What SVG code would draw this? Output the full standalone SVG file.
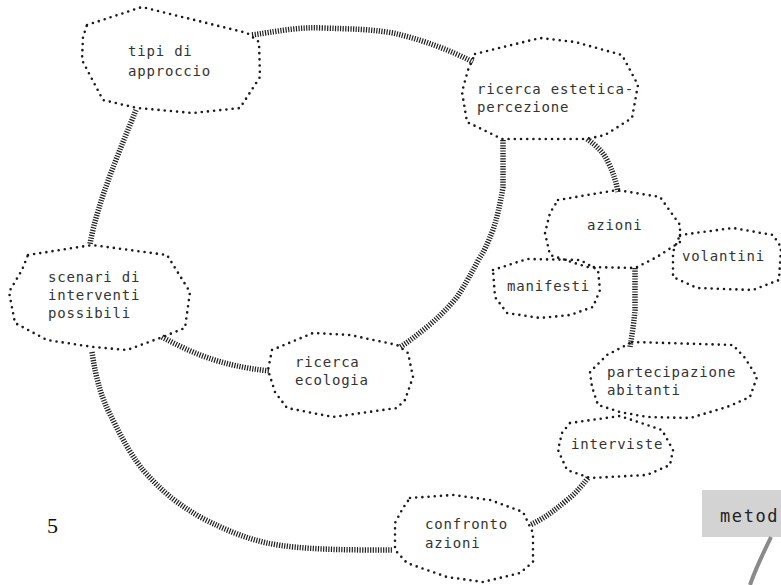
<svg xmlns="http://www.w3.org/2000/svg" width="781" height="585" viewBox="0 0 781 585">
<style>
.node{fill:none;stroke:#1a1a1a;stroke-width:2.6;stroke-linecap:round;stroke-linejoin:round;stroke-dasharray:0 6.2}
.conn{fill:none;stroke:#1e1e1e;stroke-width:5.5;stroke-dasharray:1.2 1.4}
.lbl{font-family:"DejaVu Sans Mono","Liberation Mono",monospace;font-size:14px;letter-spacing:0.8px;fill:#333}
</style>
<rect width="781" height="585" fill="#fff"/>
<g id="connectors">
<path class="conn" d="M252,35 C285,30 300,27 323,28 C350,29 370,29 393,33 C420,39 450,50 473,62"/>
<path class="conn" d="M136,110 C120,150 98,200 90,244"/>
<path class="conn" d="M162,337 C190,352 220,366 270,371"/>
<path class="conn" d="M92,352 C96,380 102,400 113,420 C125,445 135,460 143,470 C165,495 180,505 200,517 C225,530 245,538 267,543 C300,550 350,550 392,550"/>
<path class="conn" d="M503,140 L503,187 C500,205 497,218 493,230 C488,242 485,250 480,257 C472,272 465,285 457,297 C448,308 438,318 427,327 C418,334 410,341 400,347"/>
<path class="conn" d="M587,139 C597,146 604,153 608,162 C613,172 616,181 618,192"/>
<path class="conn" d="M635,268 L635,310 C634,322 632,335 630,347"/>
<path class="conn" d="M588,478 C580,488 575,494 567,500 C555,510 545,518 530,525"/>
</g>
<g id="n-tipi">
<polygon class="node" points="87,25 142,7 247,33 259,42 260,77 240,108 193,113 137,108 103,100 82,60 83,37"/>
<text class="lbl" x="128" y="56">tipi di</text>
<text class="lbl" x="128" y="76">approccio</text>
</g>
<g id="n-estetica">
<polygon class="node" points="475,54 540,38 575,42 622,55 638,85 632,118 605,135 587,139 502,139 467,122 462,92 468,70"/>
<text class="lbl" x="477" y="94">ricerca estetica-</text>
<text class="lbl" x="477" y="112">percezione</text>
</g>
<g id="n-scenari">
<polygon class="node" points="28,255 92,245 167,255 190,292 185,328 160,338 127,350 93,347 47,340 15,323 9,292 22,270"/>
<text class="lbl" x="48" y="282">scenari di</text>
<text class="lbl" x="48" y="300">interventi</text>
<text class="lbl" x="48" y="318">possibili</text>
</g>
<g id="n-ecologia">
<polygon class="node" points="272,350 313,333 350,335 397,345 408,353 413,377 405,400 397,408 333,417 287,408 275,392 268,370"/>
<text class="lbl" x="295" y="367">ricerca</text>
<text class="lbl" x="295" y="385">ecologia</text>
</g>
<g id="n-azioni">
<polygon class="node" points="558,200 617,190 660,197 680,225 680,242 657,257 635,268 587,267 550,255 545,233 550,213"/>
<text class="lbl" x="587" y="230">azioni</text>
</g>
<g id="n-volantini">
<polygon class="node" points="680,235 733,228 773,235 781,247 779,280 753,290 697,288 673,277 673,252"/>
<text class="lbl" x="682" y="261">volantini</text>
</g>
<g id="n-manifesti">
<polygon class="node" points="493,270 527,259 580,260 598,270 600,290 593,307 570,315 540,318 507,313 495,297"/>
<text class="lbl" x="507" y="291">manifesti</text>
</g>
<g id="n-partecipazione">
<polygon class="node" points="632,342 733,345 745,358 757,377 750,397 727,407 690,418 647,417 620,412 598,405 592,387 590,372 607,355"/>
<text class="lbl" x="607" y="377">partecipazione</text>
<text class="lbl" x="607" y="395">abitanti</text>
</g>
<g id="n-interviste">
<polygon class="node" points="570,423 620,416 662,430 673,450 670,465 647,475 590,478 567,470 558,450 562,433"/>
<text class="lbl" x="571" y="449">interviste</text>
</g>
<g id="n-confronto">
<polygon class="node" points="410,498 453,495 490,500 523,512 533,533 533,562 520,573 483,582 447,577 407,563 395,550 395,523 403,508"/>
<text class="lbl" x="425" y="529">confronto</text>
<text class="lbl" x="425" y="548">azioni</text>
</g>
<g id="n-metod">
<rect x="702" y="490" width="79" height="47" fill="#d3d3d3"/>
<text x="720" y="522" font-family="DejaVu Sans Mono, monospace" font-size="17" letter-spacing="1.6" fill="#222">metod</text>
<path d="M771,537 C764,552 756,567 750,585" fill="none" stroke="#8a8a8a" stroke-width="4"/>
</g>
<text x="47" y="533" font-family="'Liberation Serif', serif" font-size="22" fill="#111">5</text>
</svg>
